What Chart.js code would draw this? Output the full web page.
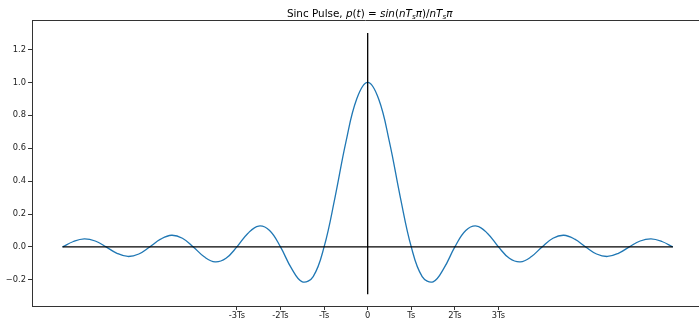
<!DOCTYPE html>
<html>
<head>
<meta charset="utf-8">
<script src="https://cdn.jsdelivr.net/npm/chart.js@4"></script>
<style>
    html, body { margin: 0; padding: 0; background: #fff; overflow: hidden; }
    #wrap { width: 699px; height: 320px; }
</style>
</head>
<body>
<div id="wrap"><canvas id="sinc" width="699" height="320"></canvas></div>
<script>
// time axis in units of Ts
const tValues = [-7, -6.75, -6.5, -6.25, -6, -5.75, -5.5, -5.25, -5, -4.75, -4.5, -4.25, -4,
    -3.75, -3.5, -3.25, -3, -2.75, -2.5, -2.25, -2, -1.75, -1.5, -1.25, -1, -0.75, -0.5, -0.25,
    0, 0.25, 0.5, 0.75, 1, 1.25, 1.5, 1.75, 2, 2.25, 2.5, 2.75, 3, 3.25, 3.5, 3.75, 4,
    4.25, 4.5, 4.75, 5, 5.25, 5.5, 5.75, 6, 6.25, 6.5, 6.75, 7];
const pValues = [0, 0.033, 0.049, 0.036, 0, -0.039, -0.058, -0.043, 0, 0.047, 0.071, 0.053, 0,
    -0.060, -0.091, -0.069, 0, 0.082, 0.127, 0.100, 0, -0.129, -0.212, -0.180, 0, 0.300, 0.637, 0.900,
    1.0, 0.900, 0.637, 0.300, 0, -0.180, -0.212, -0.129, 0, 0.100, 0.127, 0.082, 0,
    -0.069, -0.091, -0.060, 0, 0.053, 0.071, 0.047, 0, -0.043, -0.058, -0.039, 0, 0.036, 0.049, 0.033, 0];

const xTickValues = [-3, -2, -1, 0, 1, 2, 3];
const xTickLabels = ['-3Ts', '-2Ts', '-Ts', '0', 'Ts', '2Ts', '3Ts'];
const yTickValues = [-0.2, 0, 0.2, 0.4, 0.6, 0.8, 1.0, 1.2];
const yTickLabels = ['\u22120.2', '0.0', '0.2', '0.4', '0.6', '0.8', '1.0', '1.2'];

// reference lines: zero line and the vertical at t = 0
const hLine = [{ x: -7, y: 0 }, { x: 7, y: 0 }];
const vLine = [{ x: 0, y: -0.287 }, { x: 0, y: 1.3 }];

// title pieces: [text, italic, subscript]
const titleParts = [
    ['Sinc Pulse, ', false, false],
    ['p', true, false], ['(', false, false], ['t', true, false], [')', false, false],
    [' = ', false, false],
    ['sin', true, false], ['(', false, false], ['nT', true, false], ['s', true, true], ['\u03c0', true, false],
    [')/', false, false], ['nT', true, false], ['s', true, true], ['\u03c0', true, false]
];

const FONT = "'DejaVu Sans', sans-serif";

const framePlugin = {
    id: 'frame',
    afterDraw(chart) {
        const ctx = chart.ctx;
        const a = chart.chartArea;
        ctx.save();
        ctx.strokeStyle = '#333';
        ctx.lineWidth = 1;
        ctx.beginPath();
        ctx.moveTo(a.left, a.top + 0.5);
        ctx.lineTo(a.right, a.top + 0.5);
        ctx.stroke();

        // title
        const cx = chart.scales.x.getPixelForValue(0) + 2;
        const base = 17;
        const size = 10.4;
        let total = 0;
        const widths = titleParts.map(function (p) {
            const s = p[2] ? size * 0.7 : size;
            ctx.font = (p[1] ? 'italic ' : '') + s + 'px ' + FONT;
            const w = ctx.measureText(p[0]).width;
            total += w;
            return w;
        });
        let x = cx - total / 2;
        ctx.fillStyle = '#000';
        ctx.textBaseline = 'alphabetic';
        ctx.textAlign = 'left';
        titleParts.forEach(function (p, i) {
            const s = p[2] ? size * 0.7 : size;
            ctx.font = (p[1] ? 'italic ' : '') + s + 'px ' + FONT;
            ctx.fillText(p[0], x, p[2] ? base + 1.5 : base);
            x += widths[i];
        });
        ctx.restore();
    }
};

new Chart(document.getElementById('sinc'), {
    type: 'line',
    data: {
        datasets: [{
            data: hLine,
            borderColor: '#000',
            borderWidth: 1.3,
            pointRadius: 0,
            tension: 0,
            order: 0
        }, {
            data: vLine,
            borderColor: '#000',
            borderWidth: 1.3,
            pointRadius: 0,
            tension: 0,
            order: 0
        }, {
            data: tValues.map(function (t, i) { return { x: t, y: pValues[i] }; }),
            borderColor: '#1f77b4',
            backgroundColor: 'transparent',
            borderWidth: 1.3,
            pointRadius: 0,
            fill: false,
            tension: 0.4,
            order: 1
        }]
    },
    options: {
        responsive: false,
        animation: false,
        events: [],
        layout: {
            padding: { top: 20, left: 0, right: 0, bottom: 0 }
        },
        plugins: {
            legend: { display: false },
            tooltip: { enabled: false },
            title: { display: false }
        },
        scales: {
            x: {
                type: 'linear',
                min: -7.7,
                max: 7.6,
                afterBuildTicks: function (scale) {
                    scale.ticks = xTickValues.map(function (v) { return { value: v }; });
                },
                afterFit: function (scale) { scale.height = 14; },
                grid: {
                    drawOnChartArea: false,
                    drawTicks: true,
                    tickLength: 4,
                    tickColor: '#333'
                },
                border: { display: true, color: '#333', width: 1 },
                ticks: {
                    autoSkip: false,
                    maxRotation: 0,
                    padding: 1,
                    color: '#222',
                    font: { family: FONT, size: 8.3 },
                    callback: function (v) {
                        const i = xTickValues.indexOf(v);
                        return i >= 0 ? xTickLabels[i] : '';
                    }
                }
            },
            y: {
                min: -0.359,
                max: 1.379,
                afterBuildTicks: function (scale) {
                    scale.ticks = yTickValues.map(function (v) { return { value: v }; });
                },
                afterFit: function (scale) { scale.width = 32; },
                grid: {
                    drawOnChartArea: false,
                    drawTicks: true,
                    tickLength: 4,
                    tickColor: '#333'
                },
                border: { display: true, color: '#333', width: 1 },
                ticks: {
                    autoSkip: false,
                    padding: 2,
                    color: '#222',
                    font: { family: FONT, size: 8.3 },
                    callback: function (v) {
                        const i = yTickValues.findIndex(function (t) { return Math.abs(t - v) < 1e-9; });
                        return i >= 0 ? yTickLabels[i] : '';
                    }
                }
            }
        }
    },
    plugins: [framePlugin]
});
</script>
</body>
</html>
